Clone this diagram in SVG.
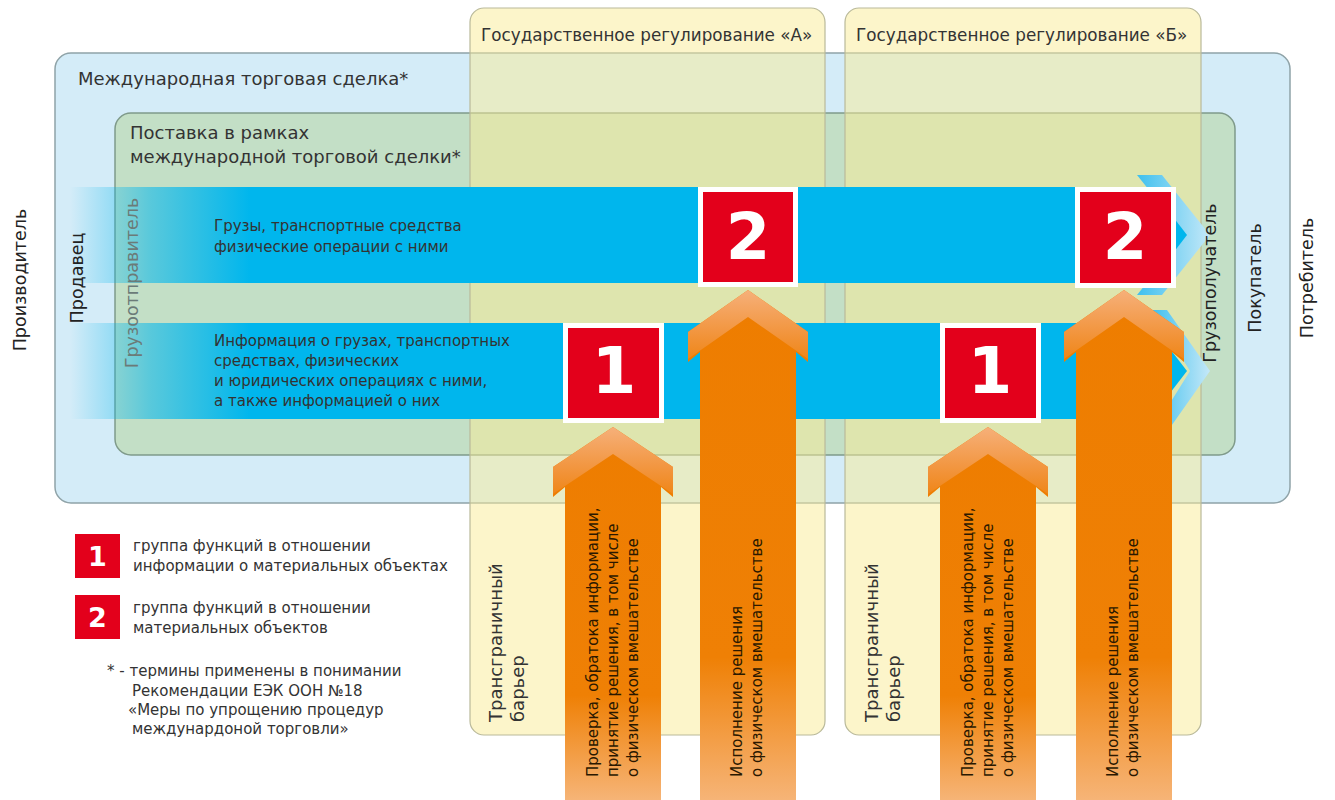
<svg xmlns="http://www.w3.org/2000/svg" width="1335" height="800" viewBox="0 0 1335 800">
<style>
  text { font-family: "DejaVu Sans", Verdana, sans-serif; fill: #333; }
  .t18 { font-size: 18px; }
  .t16 { font-size: 16.8px; }
  .t15 { font-size: 15px; }
  .side { font-size: 17.5px; fill: #222; }
  .num { font-family: "DejaVu Sans", sans-serif; font-weight: bold; fill: #fff; text-anchor: middle; }
  .redbox { fill: #e3001b; stroke: #fff; stroke-width: 5; }
  .orangeTxt { font-size: 15px; fill: #2a1800; }
</style>
<defs>
  <linearGradient id="bandGrad" gradientUnits="userSpaceOnUse" x1="70" y1="0" x2="250" y2="0">
    <stop offset="0" stop-color="#00b6ed" stop-opacity="0"/>
    <stop offset="0.45" stop-color="#00b6ed" stop-opacity="0.55"/>
    <stop offset="1" stop-color="#00b6ed" stop-opacity="1"/>
  </linearGradient>
  <linearGradient id="chevGrad" x1="0" y1="0" x2="1" y2="0">
    <stop offset="0" stop-color="#3fc0ee"/>
    <stop offset="1" stop-color="#c4e8f8"/>
  </linearGradient>
  <linearGradient id="shaftGrad" x1="0" y1="0" x2="0" y2="1">
    <stop offset="0" stop-color="#ee7d00"/>
    <stop offset="0.72" stop-color="#ef8005"/>
    <stop offset="1" stop-color="#f6b477"/>
  </linearGradient>
  <linearGradient id="headGrad" x1="0" y1="0" x2="0" y2="1">
    <stop offset="0" stop-color="#f6b07a"/>
    <stop offset="0.6" stop-color="#f29640"/>
    <stop offset="1" stop-color="#ef8618"/>
  </linearGradient>
</defs>

<!-- Outer container: international trade deal -->
<g id="trade-deal">
  <rect x="55" y="53" width="1235" height="450" rx="16" fill="#d4ecf8" stroke="#8fa3a8" stroke-width="1.5"/>
  <text class="t18" x="78" y="85">Международная торговая сделка*</text>
</g>

<!-- Supply within the deal -->
<g id="supply">
  <rect x="115" y="113" width="1120" height="342" rx="16" fill="#c3dfc6" stroke="#7f9a8a" stroke-width="1.5"/>
  <text class="t18" x="130" y="139">Поставка в рамках</text>
  <text class="t18" x="130" y="163">международной торговой сделки*</text>
</g>

<!-- State regulation zones -->
<g id="regulation-a">
  <rect x="470" y="8" width="355" height="727" rx="14" fill="#f9ec96" fill-opacity="0.5" stroke="#b9b99a" stroke-width="1.2"/>
  <text class="t16" x="481" y="41">Государственное регулирование «А»</text>
</g>
<g id="regulation-b">
  <rect x="845" y="8" width="356" height="727" rx="14" fill="#f9ec96" fill-opacity="0.5" stroke="#b9b99a" stroke-width="1.2"/>
  <text class="t16" x="856" y="41">Государственное регулирование «Б»</text>
</g>

<!-- Flows (connectors) -->
<g id="connectors">
  <!-- cargo flow -->
  <polygon points="1137,175 1162,175 1210,235 1162,295 1137,295 1185,235" fill="url(#chevGrad)"/>
  <polygon points="70,187 1150,187 1187,235 1150,283 70,283" fill="url(#bandGrad)"/>
  <!-- information flow -->
  <polygon points="1152,310 1167,310 1210,371 1167,432 1152,432 1190,371" fill="url(#chevGrad)"/>
  <polygon points="70,323 1150,323 1187,371 1150,419 70,419" fill="url(#bandGrad)"/>

  <!-- orange arrows -->
  <g id="arrow-a1">
    <polygon points="613,427 673,467 673,497 661,487 661,800 565,800 565,487 553,497 553,467" fill="url(#shaftGrad)"/>
    <polygon points="613,427 673,467 673,494 613,454 553,494 553,467" fill="url(#headGrad)"/>
  </g>
  <g id="arrow-a2">
    <polygon points="748,290 808,332 808,362 796,352 796,800 700,800 700,352 688,362 688,332" fill="url(#shaftGrad)"/>
    <polygon points="748,290 808,332 808,359 748,317 688,359 688,332" fill="url(#headGrad)"/>
  </g>
  <g id="arrow-b1">
    <polygon points="988,427 1048,467 1048,497 1036,487 1036,800 940,800 940,487 928,497 928,467" fill="url(#shaftGrad)"/>
    <polygon points="988,427 1048,467 1048,494 988,454 928,494 928,467" fill="url(#headGrad)"/>
  </g>
  <g id="arrow-b2">
    <polygon points="1124,290 1184,332 1184,362 1172,352 1172,800 1076,800 1076,352 1064,362 1064,332" fill="url(#shaftGrad)"/>
    <polygon points="1124,290 1184,332 1184,359 1124,317 1064,359 1064,332" fill="url(#headGrad)"/>
  </g>
</g>

<!-- Flow texts -->
<g id="cargo-flow-label">
  <text class="t15" x="214" y="231">Грузы, транспортные средства</text>
  <text class="t15" x="214" y="252">физические операции с ними</text>
</g>
<g id="info-flow-label">
  <text class="t15" x="214" y="346">Информация о грузах, транспортных</text>
  <text class="t15" x="214" y="366">средствах, физических</text>
  <text class="t15" x="214" y="386">и юридических операциях с ними,</text>
  <text class="t15" x="214" y="406">а также информацией о них</text>
</g>

<!-- Function group boxes -->
<g id="func2-a">
  <rect class="redbox" x="700.5" y="189.5" width="95" height="95"/>
  <text class="num" x="748" y="259" font-size="64">2</text>
</g>
<g id="func2-b">
  <rect class="redbox" x="1077.5" y="189.5" width="96" height="96"/>
  <text class="num" x="1125" y="259" font-size="64">2</text>
</g>
<g id="func1-a">
  <rect class="redbox" x="565.5" y="325.5" width="96" height="95"/>
  <text class="num" x="614" y="393" font-size="64">1</text>
</g>
<g id="func1-b">
  <rect class="redbox" x="942.5" y="325.5" width="96" height="95"/>
  <text class="num" x="990" y="393" font-size="64">1</text>
</g>

<!-- Side role labels -->
<g id="producer"><text class="side" text-anchor="middle" transform="translate(26,280) rotate(-90)">Производитель</text></g>
<g id="seller"><text class="side" text-anchor="middle" transform="translate(83,278) rotate(-90)">Продавец</text></g>
<g id="shipper"><text class="side" text-anchor="middle" style="fill:#6b7b78" transform="translate(138,283) rotate(-90)">Грузоотправитель</text></g>
<g id="consignee"><text class="side" text-anchor="middle" transform="translate(1216,283) rotate(-90)">Грузополучатель</text></g>
<g id="buyer"><text class="side" text-anchor="middle" transform="translate(1261,278) rotate(-90)">Покупатель</text></g>
<g id="consumer"><text class="side" text-anchor="middle" transform="translate(1313,278) rotate(-90)">Потребитель</text></g>

<!-- Barrier labels -->
<g id="barrier-a">
  <text class="t18" transform="translate(502,722) rotate(-90)">Трансграничный</text>
  <text class="t18" transform="translate(524,722) rotate(-90)">барьер</text>
</g>
<g id="barrier-b">
  <text class="t18" transform="translate(878,722) rotate(-90)">Трансграничный</text>
  <text class="t18" transform="translate(900,722) rotate(-90)">барьер</text>
</g>

<!-- Arrow texts -->
<g id="arrow-a1-label">
  <text class="orangeTxt" transform="translate(598,777) rotate(-90)">Проверка, обратока информации,</text>
  <text class="orangeTxt" transform="translate(618,777) rotate(-90)">принятие решения, в том числе</text>
  <text class="orangeTxt" transform="translate(638,777) rotate(-90)">о физическом вмешательстве</text>
</g>
<g id="arrow-a2-label">
  <text class="orangeTxt" transform="translate(742,777) rotate(-90)">Исполнение решения</text>
  <text class="orangeTxt" transform="translate(762,777) rotate(-90)">о физическом вмешательстве</text>
</g>
<g id="arrow-b1-label">
  <text class="orangeTxt" transform="translate(973,777) rotate(-90)">Проверка, обратока информации,</text>
  <text class="orangeTxt" transform="translate(993,777) rotate(-90)">принятие решения, в том числе</text>
  <text class="orangeTxt" transform="translate(1013,777) rotate(-90)">о физическом вмешательстве</text>
</g>
<g id="arrow-b2-label">
  <text class="orangeTxt" transform="translate(1118,777) rotate(-90)">Исполнение решения</text>
  <text class="orangeTxt" transform="translate(1138,777) rotate(-90)">о физическом вмешательстве</text>
</g>

<!-- Legend -->
<g id="legend-1">
  <rect x="75" y="534" width="45" height="44" fill="#e3001b"/>
  <text class="num" x="97.5" y="566" font-size="27">1</text>
  <text class="t15" x="133" y="551">группа функций в отношении</text>
  <text class="t15" x="133" y="571">информации о материальных объектах</text>
</g>
<g id="legend-2">
  <rect x="75" y="595" width="45" height="44" fill="#e3001b"/>
  <text class="num" x="97.5" y="627" font-size="27">2</text>
  <text class="t15" x="133" y="613">группа функций в отношении</text>
  <text class="t15" x="133" y="633">материальных объектов</text>
</g>
<g id="footnote">
  <text class="t15" x="107" y="676">* - термины применены в понимании</text>
  <text class="t15" x="132" y="696">Рекомендации ЕЭК ООН №18</text>
  <text class="t15" x="128" y="715">«Меры по упрощению процедур</text>
  <text class="t15" x="132" y="734">междунардоной торговли»</text>
</g>
</svg>
